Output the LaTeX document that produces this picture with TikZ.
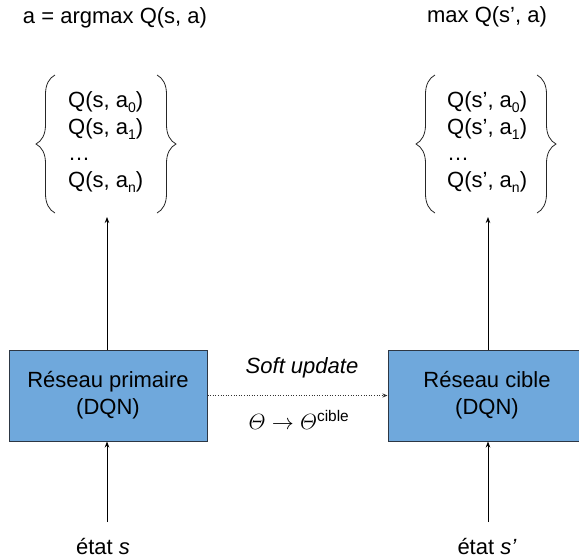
\RequirePackage{fix-cm}
\documentclass[tikz,border=0pt]{standalone}
\usepackage{amsmath}
\usepackage{fontspec}
\setmainfont{Liberation Sans}
\usetikzlibrary{arrows.meta,decorations.pathreplacing}
\definecolor{netfill}{HTML}{6FA8DC}
\definecolor{netline}{RGB}{45,55,68}
\newcommand\mysub[1]{\raisebox{-0.45ex}{\fontsize{14}{14}\selectfont #1}}
\begin{document}
\begin{tikzpicture}[x=1pt,y=-1pt,
  font=\fontsize{22}{27}\selectfont,
  net/.style={draw=netline, fill=netfill, line width=1pt, minimum width=198pt,
    minimum height=91pt, align=center, inner sep=0pt},
  arr/.style={-{Stealth[length=6pt,width=4.5pt]}, line width=0.8pt},
  brc/.style={decorate, decoration={brace, amplitude=19pt}, line width=0.8pt, draw=black!85},
  qlist/.style={anchor=west, align=left, inner sep=0pt, font=\fontsize{22}{26.5}\selectfont}]
\useasboundingbox (0,0) rectangle (579,558);

% networks
\node[net] (p) at (108,395.5) {Réseau primaire\\(DQN)};
\node[net] (c) at (487,395.5) {Réseau cible\\(DQN)};

% top labels
\node (al) at (115,18) {a = argmax Q(s, a)};
\node (mr) at (487,17) {max Q(s’, a)};

% Q lists
\node[qlist] (ql) at (68,142) {Q(s, a\mysub{0})\\Q(s, a\mysub{1})\\…\\Q(s, a\mysub{n})};
\node[qlist] (qr) at (447,142) {Q(s’, a\mysub{0})\\Q(s’, a\mysub{1})\\…\\Q(s’, a\mysub{n})};

% braces
\coordinate (lb1) at (55,213); \coordinate (lb2) at (55,75);
\coordinate (lb3) at (157,75); \coordinate (lb4) at (157,213);
\coordinate (rb1) at (435,213); \coordinate (rb2) at (435,75);
\coordinate (rb3) at (537,75); \coordinate (rb4) at (537,213);
\draw[brc] (lb1) -- (lb2);
\draw[brc] (lb3) -- (lb4);
\draw[brc] (rb1) -- (rb2);
\draw[brc] (rb3) -- (rb4);

% arrows up to braces
\coordinate (lt) at (107,217);
\coordinate (rt) at (488,217);
\draw[arr] (p.north -| lt) -- (lt);
\draw[arr] (c.north -| rt) -- (rt);

% inputs
\node (sl) at (103,546) {état \textit{s}};
\node (sr) at (487,546) {état \textit{s’}};
\coordinate (ls) at (107,522);
\coordinate (rs) at (488,522);
\draw[arr] (ls) -- (ls |- p.south);
\draw[arr] (rs) -- (rs |- c.south);

% soft update
\draw[-{Stealth[length=5pt,width=4pt]}, line width=0.6pt, black!80,
  dash pattern=on 1pt off 1.6pt] (p.east) -- (c.west);
\node (su) at (302,368) {\textit{Soft update}};
\node (th) at (299,420) {$\varTheta \rightarrow \varTheta^{\text{cible}}$};
\end{tikzpicture}
\end{document}
